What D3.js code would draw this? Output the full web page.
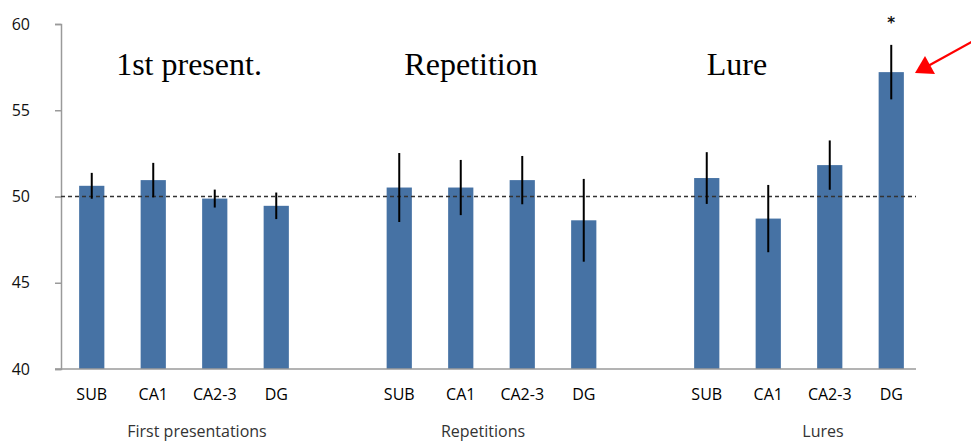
<!DOCTYPE html>
<html>
<head>
<meta charset="utf-8">
<script src="https://cdn.jsdelivr.net/npm/d3@7"></script>
<style>
  body { margin: 0; background: #fff; }
  svg { display: block; }
</style>
</head>
<body>
<script>
var width = 971;
var height = 441;

// one slot per category, blanks keep the gaps between the groups
var slots = ["SUB", "CA1", "CA2-3", "DG", "", "SUB", "CA1", "CA2-3", "DG", "", "SUB", "CA1", "CA2-3", "DG"];
var means = [50.62, 50.95, 49.88, 49.46, null, 50.52, 50.52, 50.95, 48.62, null, 51.07, 48.72, 51.82, 57.21];
var errors = [0.75, 1.0, 0.52, 0.77, null, 2.0, 1.6, 1.4, 2.4, null, 1.5, 1.95, 1.43, 1.58];
var groupNames = ["First presentations", "Repetitions", "Lures"];
var groupTitles = ["1st present.", "Repetition", "Lure"];
var yTicks = [40, 45, 50, 55, 60];
var chance = 50;

var plotLeft = 61, plotRight = 922, plotTop = 24, plotBottom = 369;

var svg = d3.select("body").append("svg")
  .attr("width", width)
  .attr("height", height);

var x = d3.scaleBand()
  .domain(d3.range(slots.length))
  .range([plotLeft, plotRight])
  .paddingInner(0.59)
  .paddingOuter(0.295);

var y = d3.scaleLinear().domain([40, 60]).range([plotBottom, plotTop]);

// y axis
var yAxis = d3.axisLeft(y).tickValues(yTicks).tickSize(6).tickPadding(25);
var yg = svg.append("g").attr("transform", "translate(" + plotLeft + ",0)").call(yAxis);
yg.select(".domain").attr("stroke", "#9a9a9a").attr("stroke-width", 1.5);
yg.selectAll(".tick line").attr("stroke", "#9a9a9a").attr("stroke-width", 1.5);
yg.selectAll(".tick text")
  .attr("font-family", "'Open Sans', sans-serif")
  .attr("font-size", 16)
  .attr("fill", "#111");

// bars
var idx = d3.range(slots.length).filter(function (i) { return means[i] != null; });

svg.selectAll("rect.bar")
  .data(idx)
  .enter()
  .append("rect")
  .attr("class", "bar")
  .attr("x", function (i) { return x(i); })
  .attr("width", x.bandwidth())
  .attr("y", function (i) { return y(means[i]); })
  .attr("height", function (i) { return y(40) - y(means[i]); })
  .attr("fill", "#4672a4");

// chance line
svg.append("line")
  .attr("x1", plotLeft)
  .attr("x2", 916)
  .attr("y1", y(chance))
  .attr("y2", y(chance))
  .attr("stroke", "#333")
  .attr("stroke-width", 1.3)
  .attr("stroke-dasharray", "4,3");

// error bars
svg.selectAll("line.err")
  .data(idx)
  .enter()
  .append("line")
  .attr("class", "err")
  .attr("x1", function (i) { return x(i) + x.bandwidth() / 2; })
  .attr("x2", function (i) { return x(i) + x.bandwidth() / 2; })
  .attr("y1", function (i) { return y(means[i] + errors[i]); })
  .attr("y2", function (i) { return y(means[i] - errors[i]); })
  .attr("stroke", "#000")
  .attr("stroke-width", 2);

// x axis line
svg.append("line")
  .attr("x1", plotLeft - 6)
  .attr("x2", 916)
  .attr("y1", plotBottom)
  .attr("y2", plotBottom)
  .attr("stroke", "#9a9a9a")
  .attr("stroke-width", 1.5);

// category labels
svg.selectAll("text.cat")
  .data(idx)
  .enter()
  .append("text")
  .attr("class", "cat")
  .attr("x", function (i) { return x(i) + x.bandwidth() / 2; })
  .attr("y", 400)
  .attr("text-anchor", "middle")
  .attr("font-family", "'Open Sans', sans-serif")
  .attr("font-size", 16)
  .attr("fill", "#000")
  .text(function (i) { return slots[i]; });

// group names under the axis, and titles inside the plot
var groupX = [197, 483, 823];
var titleX = [189, 471, 737];

svg.selectAll("text.group")
  .data(groupNames)
  .enter()
  .append("text")
  .attr("class", "group")
  .attr("x", function (d, i) { return groupX[i]; })
  .attr("y", 437)
  .attr("text-anchor", "middle")
  .attr("font-family", "'Open Sans', sans-serif")
  .attr("font-size", 16)
  .attr("fill", "#333")
  .text(function (d) { return d; });

svg.selectAll("text.title")
  .data(groupTitles)
  .enter()
  .append("text")
  .attr("class", "title")
  .attr("x", function (d, i) { return titleX[i]; })
  .attr("y", 75)
  .attr("text-anchor", "middle")
  .attr("font-family", "'Liberation Serif', serif")
  .attr("font-size", 32)
  .attr("fill", "#000")
  .text(function (d) { return d; });

// significance mark
svg.append("text")
  .attr("x", x(13) + x.bandwidth() / 2)
  .attr("y", 28)
  .attr("text-anchor", "middle")
  .attr("font-family", "'DejaVu Sans', sans-serif")
  .attr("font-size", 15)
  .attr("font-weight", "bold")
  .attr("fill", "#111")
  .text("*");

// red arrow
svg.append("line")
  .attr("x1", 975)
  .attr("y1", 40)
  .attr("x2", 928)
  .attr("y2", 66)
  .attr("stroke", "#f00")
  .attr("stroke-width", 2.2);

svg.append("path")
  .attr("d", "M915,73L925,56L935,74Z")
  .attr("fill", "#f00");
</script>
</body>
</html>
